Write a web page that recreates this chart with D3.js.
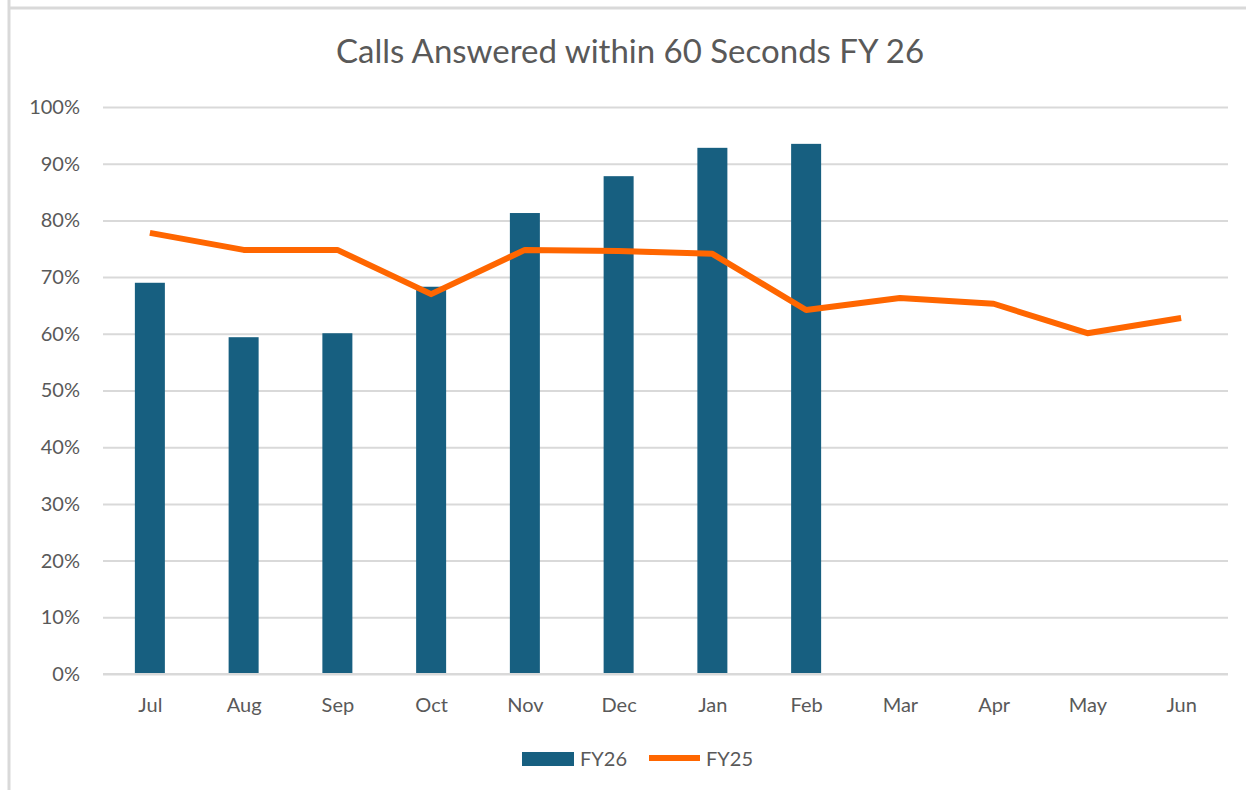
<!DOCTYPE html>
<html>
<head>
<meta charset="utf-8">
<script src="https://cdn.jsdelivr.net/npm/d3@7"></script>
<style>
  body { margin: 0; background: #fff; }
  svg text { font-family: Lato, "Open Sans", sans-serif; fill: #595959; }
</style>
</head>
<body>
<script>
// chart data
var months = ["Jul", "Aug", "Sep", "Oct", "Nov", "Dec", "Jan", "Feb", "Mar", "Apr", "May", "Jun"];
var fy26 = [0.690, 0.594, 0.601, 0.683, 0.813, 0.878, 0.928, 0.935];
var fy25 = [0.778, 0.748, 0.748, 0.670, 0.748, 0.746, 0.741, 0.642, 0.663, 0.653, 0.601, 0.628];
var yTicks = [0, 0.1, 0.2, 0.3, 0.4, 0.5, 0.6, 0.7, 0.8, 0.9, 1];

var W = 1246, H = 790;
var m = { left: 103, right: 1228, top: 107, bottom: 674 };

var svg = d3.select("body").append("svg")
    .attr("width", W)
    .attr("height", H);

// sheet borders around the chart box
svg.append("line").attr("x1", 9).attr("x2", W).attr("y1", 8).attr("y2", 8)
    .attr("stroke", "#d9d9d9").attr("stroke-width", 3);
svg.append("line").attr("x1", 9).attr("x2", 9).attr("y1", 0).attr("y2", H)
    .attr("stroke", "#d9d9d9").attr("stroke-width", 3);

var x = d3.scaleBand().domain(months).range([m.left, m.right]).paddingInner(0.68).paddingOuter(0.34);
var xc = d3.scalePoint().domain(months).range([m.left, m.right]).padding(0.5);
var y = d3.scaleLinear().domain([0, 1]).range([m.bottom, m.top]);

// title
svg.append("text")
    .attr("x", 630).attr("y", 63)
    .attr("text-anchor", "middle")
    .style("font-size", "33px")
    .text("Calls Answered within 60 Seconds FY 26");

// gridlines + y labels
var yAxis = d3.axisLeft(y).tickValues(yTicks).tickFormat(d3.format(".0%"))
    .tickSize(-(m.right - m.left)).tickPadding(23);
var gy = svg.append("g").attr("transform", "translate(" + m.left + ",0)").call(yAxis);
gy.select(".domain").remove();
gy.selectAll(".tick line").attr("stroke", "#d9d9d9").attr("stroke-width", 2);
gy.selectAll(".tick text").style("font-size", "20px").attr("fill", "#595959");

// bars
svg.selectAll("rect.bar")
    .data(fy26)
    .enter()
    .append("rect")
    .attr("class", "bar")
    .attr("x", function (d, i) { return x(months[i]); })
    .attr("y", function (d) { return y(d); })
    .attr("width", x.bandwidth())
    .attr("height", function (d) { return y(0) - y(d); })
    .attr("fill", "#175f80");

// x axis line + labels
var xAxis = d3.axisBottom(xc).tickSize(0).tickPadding(24);
var gx = svg.append("g").attr("transform", "translate(0," + m.bottom + ")").call(xAxis);
gx.select(".domain").attr("stroke", "#d9d9d9").attr("stroke-width", 2)
    .attr("d", "M" + m.left + ",0H" + m.right);
gx.selectAll(".tick text").style("font-size", "20px").attr("fill", "#595959");

// FY25 line
var line = d3.line()
    .x(function (d, i) { return xc(months[i]); })
    .y(function (d) { return y(d); });
svg.append("path")
    .datum(fy25)
    .attr("d", line)
    .attr("fill", "none")
    .attr("stroke", "#ff6600")
    .attr("stroke-width", 6)
    .attr("stroke-linejoin", "round");

// legend
var leg = svg.append("g");
leg.append("rect").attr("x", 522).attr("y", 752).attr("width", 52).attr("height", 14).attr("fill", "#175f80");
leg.append("text").attr("x", 580).attr("y", 766).style("font-size", "20px").text("FY26");
leg.append("line").attr("x1", 649).attr("x2", 700).attr("y1", 758).attr("y2", 758)
    .attr("stroke", "#ff6600").attr("stroke-width", 6);
leg.append("text").attr("x", 706).attr("y", 766).style("font-size", "20px").text("FY25");
</script>
</body>
</html>
